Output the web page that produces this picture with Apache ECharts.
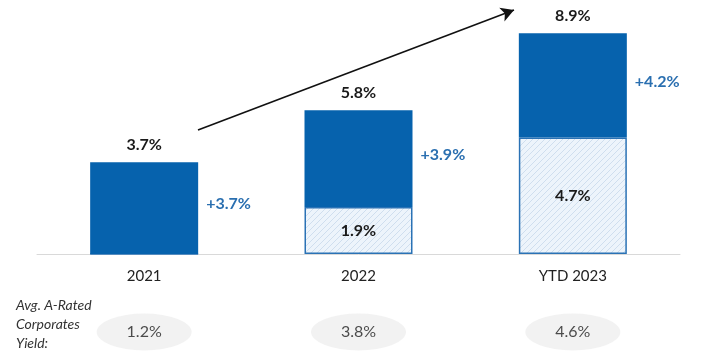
<!DOCTYPE html>
<html><head><meta charset="utf-8">
<script src="https://cdn.jsdelivr.net/npm/echarts@6/dist/echarts.min.js"></script>
<style>html,body{margin:0;padding:0;background:#fff}#c{width:701px;height:354px}</style>
</head><body><div id="c"></div>
<script>
var categories = ['2021', '2022', 'YTD 2023'];
var baseValues = [0, 1.9, 4.7];
var increaseValues = [3.7, 3.9, 4.2];
var totalValues = [3.7, 5.8, 8.9];
var yieldValues = [1.2, 3.8, 4.6];
var yieldTitle = 'Avg. A-Rated\nCorporates\nYield:';

var cv = document.createElement('canvas');
cv.width = 6; cv.height = 6;
var cx = cv.getContext('2d');
cx.fillStyle = '#edf4fb'; cx.fillRect(0, 0, 6, 6);
cx.strokeStyle = '#cfdeee'; cx.lineWidth = 1;
cx.beginPath(); cx.moveTo(0, 6); cx.lineTo(6, 0); cx.moveTo(-1, 1); cx.lineTo(1, -1); cx.moveTo(5, 7); cx.lineTo(7, 5); cx.stroke();

var FONT = 'Lato, "Open Sans", sans-serif';
var chart = echarts.init(document.getElementById('c'));
chart.setOption({
  animation: false,
  textStyle: { fontFamily: FONT },
  grid: [
    { left: 37, right: 21, top: 6, bottom: 100 },
    { left: 37, right: 21, top: 312, height: 40 }
  ],
  xAxis: [
    { type: 'category', data: categories, gridIndex: 0,
      axisLine: { lineStyle: { color: '#d9d9d9', width: 1 } },
      axisTick: { show: false },
      axisLabel: { color: '#222', fontSize: 15, margin: 15, fontFamily: FONT } },
    { type: 'category', data: categories, gridIndex: 1, show: false }
  ],
  yAxis: [
    { type: 'value', min: 0, max: 10, gridIndex: 0, show: false },
    { type: 'value', min: -1, max: 1, gridIndex: 1, show: false }
  ],
  graphic: [
    { type: 'text', left: 16, top: 296,
      style: { text: yieldTitle, font: 'italic 14px ' + FONT, fill: '#333', lineHeight: 19 } }
  ],
  series: [
    { type: 'bar', stack: 's', data: baseValues, barWidth: 108,
      itemStyle: { color: { image: cv, repeat: 'repeat' }, borderColor: '#2a72b5', borderWidth: 1.5 },
      label: { show: true, position: 'inside', color: '#1a1a1a', fontWeight: 'bold', fontSize: 16,
        formatter: function (p) { return p.value ? p.value.toFixed(1) + '%' : ''; } } },
    { type: 'bar', stack: 's', data: increaseValues, barWidth: 108,
      itemStyle: { color: '#0662ad' },
      label: { show: true, position: 'right', distance: 8, offset: [0, -4], color: '#2a6fb0', fontWeight: 'bold', fontSize: 16,
        formatter: function (p) { return '+' + p.value.toFixed(1) + '%'; } },
      markLine: {
        silent: true, symbol: ['none', 'arrow'], symbolSize: [11, 13],
        lineStyle: { color: '#111', width: 1.6, type: 'solid' },
        label: { show: false },
        data: [[{ x: 198, y: 130 }, { x: 514, y: 10 }]]
      } },
    { type: 'line', data: totalValues, symbol: 'circle', symbolSize: 1, showSymbol: true,
      itemStyle: { color: 'rgba(0,0,0,0)' }, lineStyle: { opacity: 0 }, z: 5,
      label: { show: true, position: 'top', distance: 9, color: '#1a1a1a', fontWeight: 'bold', fontSize: 16,
        formatter: function (p) { return p.value.toFixed(1) + '%'; } } },
    { type: 'scatter', xAxisIndex: 1, yAxisIndex: 1, data: yieldValues.map(function () { return 0; }),
      symbol: 'circle', symbolSize: [95, 37], itemStyle: { color: '#efefef' },
      label: { show: true, position: 'inside', color: '#222', fontSize: 16,
        formatter: function (p) { return yieldValues[p.dataIndex].toFixed(1) + '%'; } } }
  ]
});
</script></body></html>
